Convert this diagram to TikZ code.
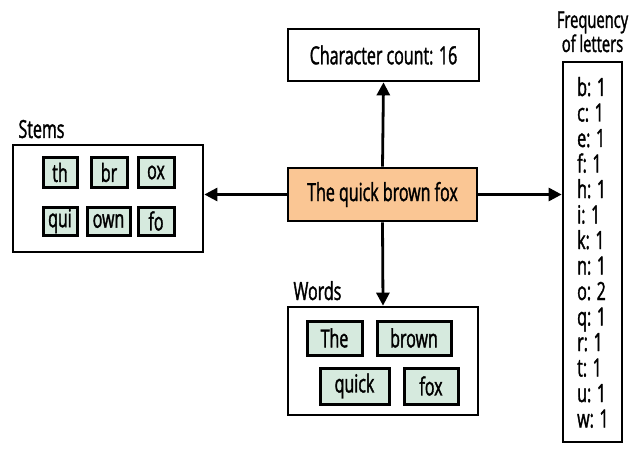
\documentclass[tikz,border=0pt]{standalone}
\usepackage{fontspec}
\setmainfont{Open Sans}[FakeStretch=0.64,FakeBold=1.4]
\usepackage{tikz}
\usetikzlibrary{arrows.meta}

\definecolor{foxorange}{RGB}{250,198,148}
\definecolor{stemgreen}{RGB}{214,234,222}

\tikzset{
  bigbox/.style={draw,line width=2.7pt,fill=white,inner sep=0pt},
  smallbox/.style={draw,line width=3pt,fill=stemgreen,inner sep=0pt},
  flow/.style={line width=2.8pt,-{Triangle[length=13pt,width=13pt]}},
}

\begin{document}
\begin{tikzpicture}[x=1pt,y=-1pt,font=\fontsize{25}{25.5}\selectfont]
\useasboundingbox (0,0) rectangle (639,449);
% the sentence in the middle
\node[bigbox,fill=foxorange,minimum width=189pt,minimum height=53pt] (fox) at (382.5,194.5) {The quick brown fox};
\node[bigbox,minimum width=191pt,minimum height=52pt] (count) at (383.5,55) {Character count: 16};
% stems
\node[bigbox,minimum width=190pt,minimum height=107pt] (stems) at (108,198.5) {};
\node[anchor=base west] (stemslabel) at (15,138) {Stems};
\node[smallbox,minimum width=34pt,minimum height=29pt] (s1) at (60,172.5) {th};
\node[smallbox,minimum width=36pt,minimum height=29pt] (s2) at (109,172.5) {br};
\node[smallbox,minimum width=36pt,minimum height=29pt] (s3) at (156,172.5) {ox};
\node[smallbox,minimum width=34pt,minimum height=28pt] (s4) at (60,221) {qui};
\node[smallbox,minimum width=43pt,minimum height=28pt] (s5) at (108.5,221) {own};
\node[smallbox,minimum width=36pt,minimum height=28pt] (s6) at (156,221) {fo};
% words
\node[bigbox,minimum width=190pt,minimum height=108pt] (words) at (383,361) {};
\node[anchor=base west] (wordslabel) at (290,300) {Words};
\node[smallbox,minimum width=55pt,minimum height=34pt] (w1) at (334.5,338) {The};
\node[smallbox,minimum width=74pt,minimum height=34pt] (w2) at (414,338) {brown};
\node[smallbox,minimum width=69pt,minimum height=36pt] (w3) at (354.5,386) {quick};
\node[smallbox,minimum width=54pt,minimum height=36pt] (w4) at (431,386) {fox};
% letter frequencies
\node[bigbox,minimum width=59pt,minimum height=380pt] (freq) at (592.5,252) {};
\node[anchor=base,align=center,font=\fontsize{23}{22}\selectfont] (freqlabel) at (592.5,52) {Frequency\\of letters};
\foreach \l/\n [count=\i from 0] in {b/1,c/1,e/1,f/1,h/1,i/1,k/1,n/1,o/2,q/1,r/1,t/1,u/1,w/1}
  \node[anchor=base west,inner sep=0pt] (f\i) at (577,96+25.5*\i) {\l: \n};
% arrows
\draw[flow] (fox.north) -- (count.south);
\draw[flow] (fox.west) -- (fox.west -| stems.east);
\draw[flow] (fox.east) -- (fox.east -| freq.west);
\draw[flow] (fox.south) -- (words.north);
\end{tikzpicture}
\end{document}
